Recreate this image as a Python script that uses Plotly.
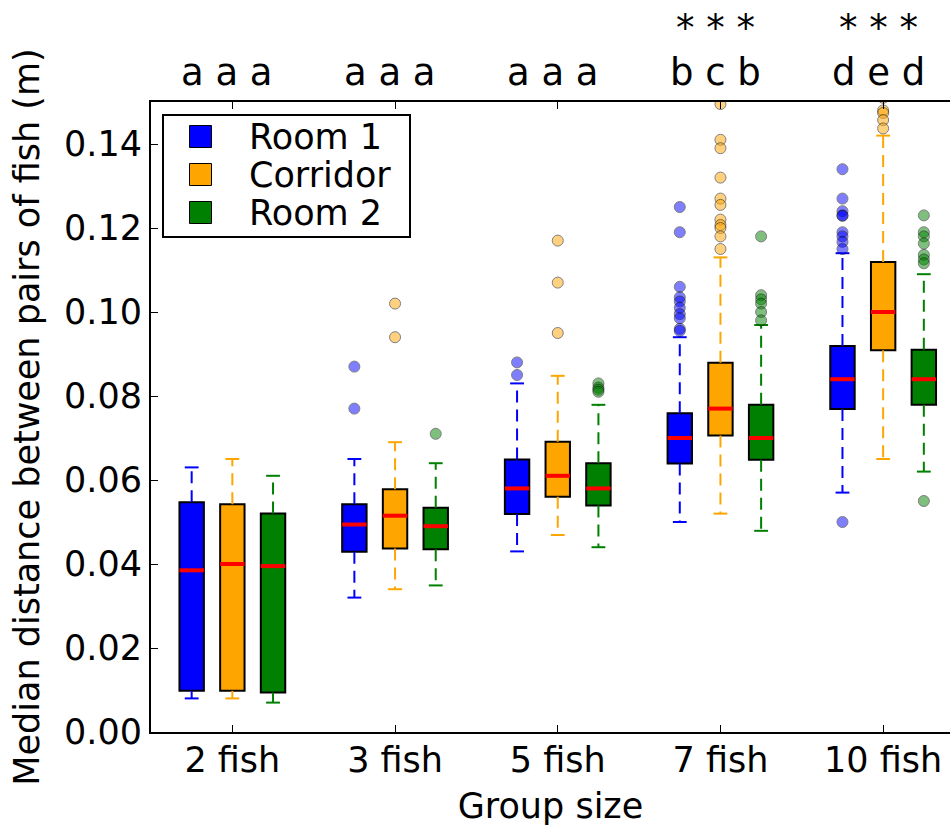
import plotly.graph_objects as go

# ---------------- data ----------------
groups = ["2 fish", "3 fish", "5 fish", "7 fish", "10 fish"]
conditions = ["Room 1", "Corridor", "Room 2"]
colors = ["#0000ff", "#ffa500", "#008000"]

room1_q1 = [0.0098, 0.0429, 0.0519, 0.0639, 0.0769]
room1_med = [0.0385, 0.0494, 0.0580, 0.0700, 0.0840]
room1_q3 = [0.0547, 0.0542, 0.0649, 0.0759, 0.0919]
room1_lo = [0.0080, 0.0320, 0.0430, 0.0500, 0.0570]
room1_hi = [0.0630, 0.0650, 0.0830, 0.0940, 0.1140]
room1_out = [[], [0.087, 0.077], [0.088, 0.085],
             [0.125, 0.119, 0.106, 0.1035, 0.1025, 0.101, 0.0995, 0.0985, 0.096, 0.0955],
             [0.134, 0.127, 0.124, 0.123, 0.1229, 0.119, 0.118, 0.1167, 0.115, 0.050]]

corr_q1 = [0.0098, 0.0437, 0.0560, 0.0706, 0.0909]
corr_med = [0.0400, 0.0515, 0.0610, 0.0770, 0.1000]
corr_q3 = [0.0542, 0.0578, 0.0691, 0.0879, 0.1119]
corr_lo = [0.0080, 0.0340, 0.0469, 0.0520, 0.0650]
corr_hi = [0.0650, 0.0690, 0.0848, 0.1130, 0.1420]
corr_out = [[], [0.102, 0.094], [0.117, 0.107, 0.095],
            [0.1495, 0.141, 0.139, 0.132, 0.127, 0.1255, 0.122, 0.1207, 0.120, 0.118, 0.115],
            [0.151, 0.148, 0.1474, 0.1457, 0.1437]]

room2_q1 = [0.0094, 0.0435, 0.0539, 0.0648, 0.0779]
room2_med = [0.0395, 0.0490, 0.0580, 0.0700, 0.0840]
room2_q3 = [0.0520, 0.0534, 0.0640, 0.0779, 0.0910]
room2_lo = [0.0070, 0.0349, 0.0440, 0.0479, 0.0620]
room2_hi = [0.0610, 0.0640, 0.0779, 0.0969, 0.1090]
room2_out = [[], [0.071], [0.083, 0.082, 0.0815, 0.081],
             [0.118, 0.104, 0.103, 0.102, 0.100, 0.098],
             [0.123, 0.119, 0.118, 0.1163, 0.1136, 0.1125, 0.1116, 0.055]]

group_letters = ["a a a", "a a a", "a a a", "b c b", "d e d"]
group_stars = ["", "", "", "* * *", "* * *"]

y_ticks = [0.00, 0.02, 0.04, 0.06, 0.08, 0.10, 0.12, 0.14]

series = [
    (room1_q1, room1_med, room1_q3, room1_lo, room1_hi, room1_out),
    (corr_q1, corr_med, corr_q3, corr_lo, corr_hi, corr_out),
    (room2_q1, room2_med, room2_q3, room2_lo, room2_hi, room2_out),
]

# ---------------- layout constants ----------------
W, H = 950, 829
L, R, T, B = 151, 0, 102, 97
FONT = "DejaVu Sans"
offsets = [-0.25, 0.0, 0.25]
box_w = 0.15
cap_w = 0.085
gpos = [i + 1 for i in range(len(groups))]

fig = go.Figure()

for ci, (q1, med, q3, lo, hi, out) in enumerate(series):
    col = colors[ci]
    xs = [g + offsets[ci] for g in gpos]
    # boxes
    fig.add_trace(go.Bar(
        x=xs, base=q1, y=[b - a for a, b in zip(q1, q3)], width=box_w,
        marker=dict(color=col, line=dict(color="black", width=2)),
        showlegend=False, hoverinfo="skip", name=conditions[ci]))
    # whiskers (dashed), drawn from box edge to cap
    wx, wy = [], []
    for x, a, b, l, h in zip(xs, q1, q3, lo, hi):
        wx += [x, x, None, x, x, None]
        wy += [b, h, None, a, l, None]
    fig.add_trace(go.Scatter(x=wx, y=wy, mode="lines",
                             line=dict(color=col, width=2, dash="12px,7px"),
                             showlegend=False, hoverinfo="skip"))
    # caps
    cx, cy = [], []
    for x, l, h in zip(xs, lo, hi):
        cx += [x - cap_w / 2, x + cap_w / 2, None, x - cap_w / 2, x + cap_w / 2, None]
        cy += [h, h, None, l, l, None]
    fig.add_trace(go.Scatter(x=cx, y=cy, mode="lines",
                             line=dict(color=col, width=2),
                             showlegend=False, hoverinfo="skip"))
    # medians
    mx, my = [], []
    for x, m in zip(xs, med):
        mx += [x - box_w / 2, x + box_w / 2, None]
        my += [m, m, None]
    fig.add_trace(go.Scatter(x=mx, y=my, mode="lines",
                             line=dict(color="red", width=4),
                             showlegend=False, hoverinfo="skip"))
    # outliers
    ox, oy = [], []
    for x, pts in zip(xs, out):
        for p in pts:
            ox.append(x)
            oy.append(p)
    fig.add_trace(go.Scatter(x=ox, y=oy, mode="markers",
                             marker=dict(color=col, size=11, opacity=0.5,
                                         line=dict(color="black", width=1)),
                             showlegend=False, hoverinfo="skip"))

# plot-area width in px and x range matching reference (right edge cropped)
px_per_unit = 162.7
x_left = 0.5
x_right = x_left + (W - L - R) / px_per_unit

annotations = []
for g, txt, st in zip(gpos, group_letters, group_stars):
    annotations.append(dict(x=g - 0.03, y=1, xref="x", yref="paper", text=txt,
                            showarrow=False, yanchor="middle", yshift=30,
                            font=dict(family=FONT, size=37, color="black")))
    if st:
        annotations.append(dict(x=g - 0.03, y=1, xref="x", yref="paper", text=st,
                                showarrow=False, yanchor="middle", yshift=74,
                                font=dict(family=FONT, size=37, color="black")))

# manual legend (pixel -> paper)
pw, ph = W - L - R, H - T - B
def fx(px):
    return (px - L) / pw
def fy(py):
    return (H - B - py) / ph

shapes = [dict(type="rect", xref="paper", yref="paper",
               x0=fx(163), x1=fx(410), y0=fy(237), y1=fy(115),
               line=dict(color="black", width=2), fillcolor="white", layer="above")]
leg_y = [136.5, 174.5, 212.5]
for ci, name in enumerate(conditions):
    yc = leg_y[ci]
    shapes.append(dict(type="rect", xref="paper", yref="paper",
                       x0=fx(189.5), x1=fx(211.5), y0=fy(yc + 11), y1=fy(yc - 11),
                       line=dict(color="black", width=1), fillcolor=colors[ci], layer="above"))
    annotations.append(dict(x=fx(247), y=fy(yc), xref="paper", yref="paper",
                            text=name, showarrow=False, xanchor="left", yanchor="middle",
                            font=dict(family=FONT, size=35, color="black")))

fig.update_layout(
    width=W, height=H,
    margin=dict(l=L, r=R, t=T, b=B, pad=0),
    plot_bgcolor="white", paper_bgcolor="white",
    barmode="overlay",
    showlegend=False,
    font=dict(family=FONT, size=35, color="black"),
    shapes=shapes,
    annotations=annotations,
    xaxis=dict(range=[x_left, x_right], tickmode="array", tickvals=gpos, ticktext=groups,
               showgrid=False, zeroline=False, showline=True, linecolor="black", linewidth=2,
               mirror="ticks", ticks="inside", ticklen=7, tickcolor="black", tickwidth=1,
               ticklabelstandoff=-4,
               title=dict(text="Group size", font=dict(size=35), standoff=14),
               tickfont=dict(size=35)),
    yaxis=dict(range=[0, 0.15], tickmode="array", tickvals=y_ticks,
               ticktext=[f"{v:.2f}" for v in y_ticks],
               showgrid=False, zeroline=False, showline=True, linecolor="black", linewidth=2,
               mirror=False, ticks="inside", ticklen=7, tickcolor="black", tickwidth=1,
               title=dict(text="Median distance between pairs of fish (m)", font=dict(size=35),
                          standoff=14),
               tickfont=dict(size=35)),
)

fig.write_html(
    "out.html",
    config={"displayModeBar": False},
    post_script="document.body.style.margin='0';document.body.style.overflow='hidden';",
)
